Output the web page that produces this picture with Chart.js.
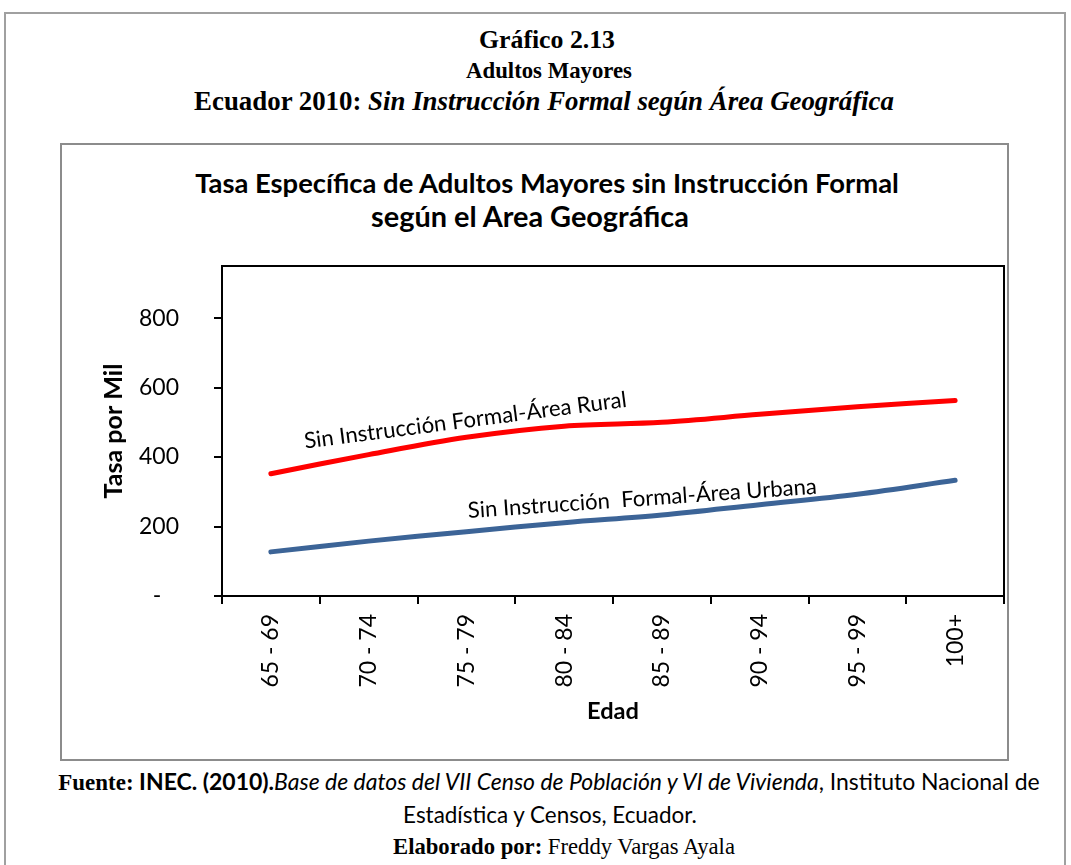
<!DOCTYPE html>
<html>
<head>
<meta charset="utf-8">
<script src="https://cdn.jsdelivr.net/npm/chart.js@4"></script>
<style>
  body { margin: 0; background: #fff; width: 1071px; height: 865px; position: relative; overflow: hidden; }
  .outer { position: absolute; left: 4px; top: 12px; width: 1062px; height: 900px; border: 2px solid #a0a0a0; box-sizing: border-box; }
  .inner { position: absolute; left: 60px; top: 143px; width: 949px; height: 618px; border: 2px solid #8c8c8c; box-sizing: border-box; }
  .t { position: absolute; white-space: nowrap; transform: translate(-50%, -50%); color: #000; line-height: 1.15; }
  .serif { font-family: "Liberation Serif", "Times New Roman", serif; }
  .sans { font-family: Lato, "Noto Sans", sans-serif; }
  canvas { position: absolute; left: 0; top: 0; }
</style>
</head>
<body>
<div class="outer"></div>
<div class="inner"></div>

<div class="t serif fit" data-w="136" style="left:547px; top:40px; font-size:26px; font-weight:bold;">Gráfico 2.13</div>
<div class="t serif fit" data-w="166" style="left:549px; top:71px; font-size:23px; font-weight:bold;">Adultos Mayores</div>
<div class="t serif fit" data-w="700" style="left:544px; top:101px; font-size:27px; font-weight:bold;">Ecuador 2010: <i>Sin Instrucción Formal según Área Geográfica</i></div>

<div class="t sans fit" data-w="704" style="left:547px; top:183px; font-size:27px; font-weight:bold;">Tasa Específica de Adultos Mayores sin Instrucción Formal</div>
<div class="t sans fit" data-w="318" style="left:530px; top:216px; font-size:27px; font-weight:bold;">según el Area Geográfica</div>

<div class="t sans fit" id="fuente" data-w="982" style="left:549px; top:782px; font-size:22px;"><b><span class="serif">Fuente:</span> INEC. (2010).</b><i>Base de datos del VII Censo de Población y VI de Vivienda</i>, Instituto Nacional de</div>
<div class="t sans fit" data-w="294" style="left:550px; top:815px; font-size:22px;">Estadística y Censos, Ecuador.</div>
<div class="t serif fit" data-w="342" style="left:564px; top:847px; font-size:22px;"><b>Elaborado por:</b> Freddy Vargas Ayala</div>

<canvas id="chart" width="1071" height="760"></canvas>

<script>
// datos
const edades = ["65 - 69", "70 - 74", "75 - 79", "80 - 84", "85 - 89", "90 - 94", "95 - 99", "100+"];
const rural = [352, 407, 457, 489, 500, 523, 545, 563];
const urbana = [127, 158, 185, 211, 233, 263, 293, 333];
const yTicks = [0, 200, 400, 600, 800];

// etiquetas sobre las lineas
const etiquetas = [
  { text: "Sin Instrucción Formal-Área Rural", x: 1.99, y: 505, angle: -7.4, w: 325 },
  { text: "Sin Instrucción  Formal-Área Urbana", x: 3.8, y: 280, angle: -4, w: 350 }
];

// ajustar tamaños de letra al ancho medido
document.querySelectorAll(".fit").forEach(el => {
  const w = el.getBoundingClientRect().width;
  const fs = parseFloat(getComputedStyle(el).fontSize);
  el.style.fontSize = (fs * el.dataset.w / w).toFixed(2) + "px";
});

const mctx = document.createElement("canvas").getContext("2d");
function fitSize(text, weight, target) {
  mctx.font = weight + " 100px Lato";
  return 100 * target / mctx.measureText(text).width;
}
const tickSize = fitSize("800", "normal", 40);
const yTitleSize = fitSize("Tasa por Mil", "bold", 135);
const xTitleSize = fitSize("Edad", "bold", 52);
etiquetas.forEach(e => { e.size = fitSize(e.text, "normal", e.w); });

const marco = {
  id: "marco",
  afterDraw(chart) {
    const { ctx, chartArea: a } = chart;
    ctx.save();
    ctx.strokeStyle = "#000";
    ctx.lineWidth = 2;
    ctx.strokeRect(a.left, a.top, a.right - a.left, a.bottom - a.top);
    ctx.restore();
  },
  afterDatasetsDraw(chart) {
    const { ctx, scales } = chart;
    ctx.save();
    ctx.fillStyle = "#000";
    ctx.textAlign = "center";
    ctx.textBaseline = "middle";
    etiquetas.forEach(e => {
      const px = scales.x.getPixelForValue(e.x);
      const py = scales.y.getPixelForValue(e.y);
      ctx.save();
      ctx.font = e.size.toFixed(2) + "px Lato";
      ctx.translate(px, py);
      ctx.rotate(e.angle * Math.PI / 180);
      ctx.fillText(e.text, 0, 0);
      ctx.restore();
    });
    ctx.restore();
  }
};

new Chart(document.getElementById("chart"), {
  type: "line",
  data: {
    labels: edades,
    datasets: [
      { label: "Rural", data: rural, borderColor: "#ff0000", borderWidth: 5 },
      { label: "Urbana", data: urbana, borderColor: "#3c6497", borderWidth: 5 }
    ]
  },
  options: {
    responsive: false,
    animation: false,
    layout: { padding: { left: 95, top: 266, right: 67, bottom: 30 } },
    elements: {
      point: { radius: 0 },
      line: { tension: 0.35, borderCapStyle: "round", fill: false }
    },
    plugins: { legend: { display: false }, tooltip: { enabled: false } },
    scales: {
      x: {
        offset: true,
        grid: { offset: true, drawOnChartArea: false, tickLength: 8, color: "#000", lineWidth: 2 },
        border: { color: "#000", width: 2 },
        ticks: { color: "#000", font: { family: "Lato", size: tickSize }, minRotation: 90, maxRotation: 90, padding: 10, autoSkip: false },
        title: { display: true, text: "Edad", color: "#000", font: { family: "Lato", size: xTitleSize, weight: "bold" } },
        afterFit: s => { s.height = 134; }
      },
      y: {
        min: 0,
        max: 950,
        afterBuildTicks: s => { s.ticks = yTicks.map(v => ({ value: v })); },
        grid: { drawOnChartArea: false, tickLength: 8, color: "#000", lineWidth: 2 },
        border: { color: "#000", width: 2 },
        ticks: { color: "#000", font: { family: "Lato", size: tickSize }, padding: 35, callback: v => v === 0 ? "-   " : v },
        title: { display: true, text: "Tasa por Mil", color: "#000", font: { family: "Lato", size: yTitleSize, weight: "bold" } },
        afterFit: s => { s.width = 127; }
      }
    }
  },
  plugins: [marco]
});
</script>
</body>
</html>
